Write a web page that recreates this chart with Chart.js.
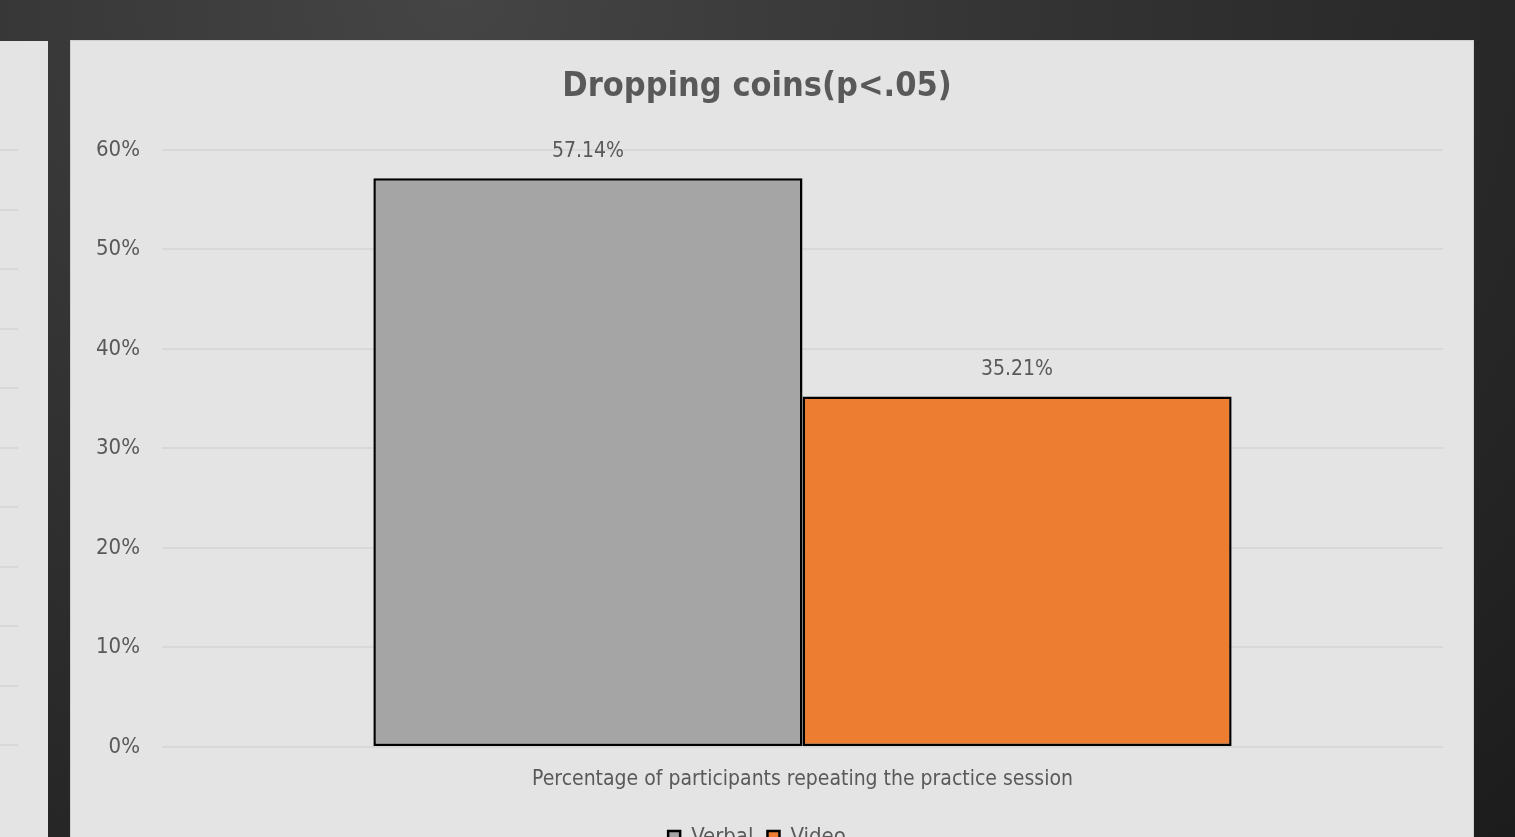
<!DOCTYPE html>
<html>
<head>
<meta charset="utf-8">
<script src="https://cdn.jsdelivr.net/npm/chart.js@4/dist/chart.umd.min.js"></script>
<style>
html,body{margin:0;padding:0;width:1515px;height:837px;overflow:hidden;}
body{
  background:
    radial-gradient(ellipse at 30% 0%, #454545 0%, #333 40%, #262626 75%, #1c1c1c 100%);
  position:relative;
}
.panel{position:absolute;background:#e4e4e4;overflow:hidden;}
#leftPanel{left:0;top:41px;width:48px;height:900px;}
#mainPanel{left:71px;top:41px;width:1402px;height:900px;box-shadow:0 0 0 1px #cfcfcf;}
#sideWrap{position:absolute;left:-300px;top:0;width:318px;height:796px;}
#mainWrap{position:absolute;left:0;top:0;width:1402px;height:817px;}
</style>
</head>
<body>
<div class="panel" id="leftPanel"><div id="sideWrap"><canvas id="sideChart"></canvas></div></div>
<div class="panel" id="mainPanel"><div id="mainWrap"><canvas id="coinsChart"></canvas></div></div>
<script>
// chart data
const categories = ["Percentage of participants repeating the practice session"];
const seriesNames = ["Verbal", "Video"];
const verbalValues = [0.5714];
const videoValues = [0.3521];
const seriesColors = ["#a5a5a5", "#ed7d31"];
const yTicks = [0, 0.1, 0.2, 0.3, 0.4, 0.5, 0.6];

const FONT = "'Liberation Sans Narrow', 'DejaVu Sans Condensed', 'Roboto Condensed', sans-serif";
const TEXT = "#595959";
const GRID = "#d8d8d8";

// value labels above bars
const valueLabels = {
  id: "valueLabels",
  afterDatasetsDraw(chart){
    const ctx = chart.ctx;
    ctx.save();
    ctx.font = "21px " + FONT;
    ctx.fillStyle = TEXT;
    ctx.textAlign = "center";
    ctx.textBaseline = "middle";
    chart.data.datasets.forEach((ds, i) => {
      chart.getDatasetMeta(i).data.forEach((bar, j) => {
        ctx.fillText((ds.data[j] * 100).toFixed(2) + "%", bar.x, bar.y - 27);
      });
    });
    ctx.restore();
  }
};

new Chart(document.getElementById("coinsChart"), {
  type: "bar",
  data: {
    labels: categories,
    datasets: [
      {label: seriesNames[0], data: verbalValues, backgroundColor: seriesColors[0], borderColor: "#000", borderWidth: 2.5, borderSkipped: false},
      {label: seriesNames[1], data: videoValues, backgroundColor: seriesColors[1], borderColor: "#000", borderWidth: 2.5, borderSkipped: false}
    ]
  },
  options: {
    responsive: true,
    maintainAspectRatio: false,
    animation: false,
    layout: {padding: {left: 0, right: 30, top: 0, bottom: 0}},
    datasets: {bar: {categoryPercentage: 0.67, barPercentage: 1}},
    plugins: {
      title: {
        display: true,
        text: "Dropping coins(p<.05)",
        color: TEXT,
        font: {family: FONT, size: 34, weight: "bold", lineHeight: 1.2},
        padding: {top: 26, bottom: 42}
      },
      legend: {
        position: "bottom",
        labels: {
          color: TEXT,
          font: {family: FONT, size: 22},
          boxWidth: 12,
          boxHeight: 12,
          padding: 14
        }
      },
      tooltip: {enabled: false}
    },
    scales: {
      x: {
        grid: {display: false, drawTicks: false},
        border: {display: false},
        ticks: {color: TEXT, font: {family: FONT, size: 21}, padding: 20},
        afterFit(scale){ scale.height = 65; }
      },
      y: {
        min: 0,
        max: 0.6,
        afterBuildTicks(scale){ scale.ticks = yTicks.map(v => ({value: v})); },
        grid: {color: GRID, lineWidth: 2, drawTicks: false},
        border: {display: false},
        ticks: {
          color: TEXT,
          font: {family: FONT, size: 22},
          padding: 22,
          callback: v => Math.round(v * 100) + "%"
        },
        afterFit(scale){ scale.width = 91; }
      }
    }
  },
  plugins: [valueLabels]
});

// neighbouring chart, only its gridlines show
const sideSteps = [0, 1, 2, 3, 4, 5, 6, 7, 8, 9, 10];
new Chart(document.getElementById("sideChart"), {
  type: "bar",
  data: {labels: [""], datasets: [{data: [0]}]},
  options: {
    responsive: true,
    maintainAspectRatio: false,
    animation: false,
    layout: {padding: {top: 109, bottom: 92, left: 0, right: 0}},
    plugins: {legend: {display: false}, tooltip: {enabled: false}},
    scales: {
      x: {display: false},
      y: {
        min: 0, max: 10,
        afterBuildTicks(scale){ scale.ticks = sideSteps.map(v => ({value: v})); },
        grid: {color: GRID, lineWidth: 2, drawTicks: false},
        border: {display: false},
        ticks: {display: false},
        afterFit(scale){ scale.width = 0; }
      }
    }
  }
});
</script>
</body>
</html>
